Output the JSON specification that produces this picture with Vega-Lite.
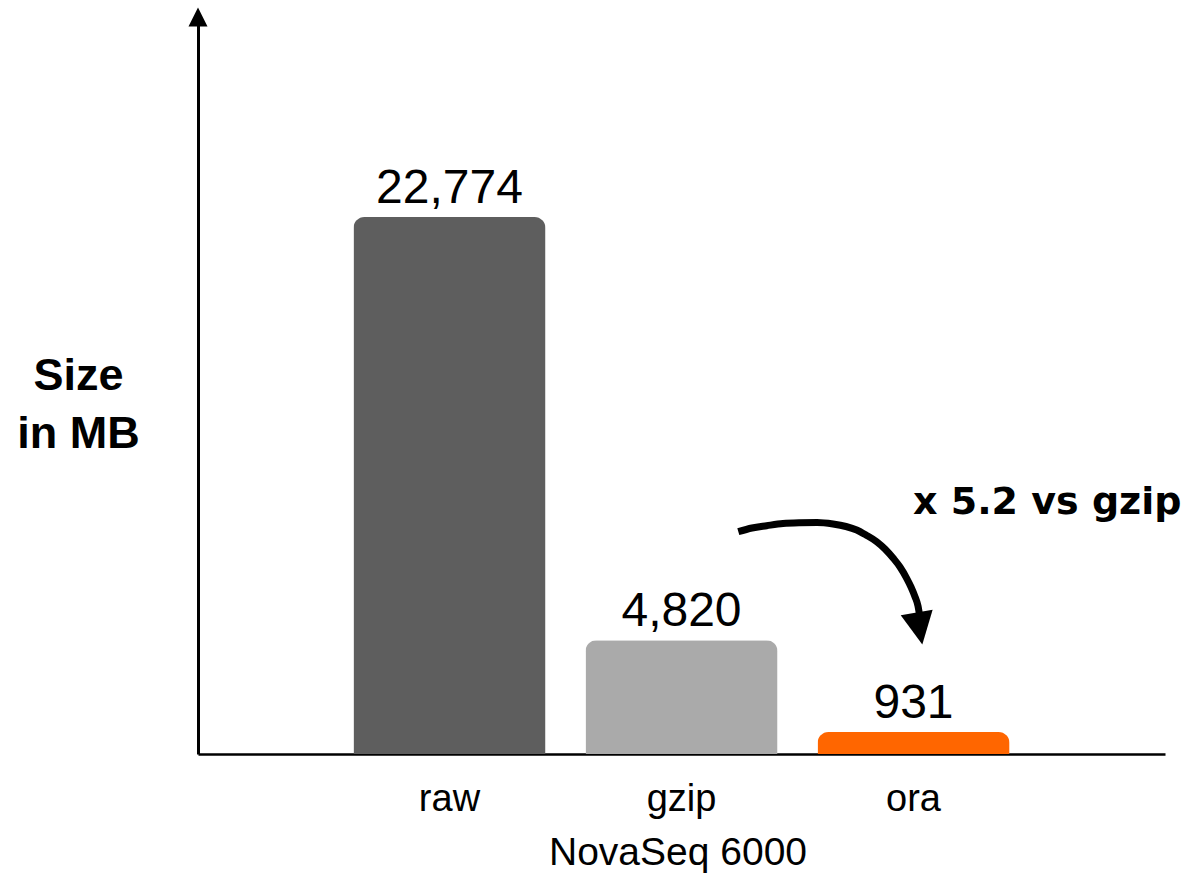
{
  "$schema": "https://vega.github.io/schema/vega-lite/v6.json",
  "width": 967,
  "height": 737,
  "autosize": {"type": "none"},
  "padding": {"left": 198, "top": 17, "right": 35, "bottom": 124},
  "background": "white",
  "config": {
    "view": {"stroke": null},
    "font": "Liberation Sans",
    "axisY": {
      "ticks": false,
      "tickSize": 0,
      "labels": false,
      "grid": false,
      "domainColor": "black",
      "domainWidth": 3,
      "titleAngle": 0,
      "titleAlign": "center",
      "titleBaseline": "alphabetic",
      "titleX": -120,
      "titleY": 372,
      "titleFont": "Liberation Sans",
      "titleFontSize": 45,
      "titleFontWeight": "bold",
      "titleColor": "black",
      "titleLineHeight": 58
    }
  },
  "datasets": {
    "bars": [
      {"format": "raw", "size": 22774},
      {"format": "gzip", "size": 4820},
      {"format": "ora", "size": 931}
    ],
    "curve": [
      {"i": 1, "pos": 2.2470, "value": 9428},
      {"i": 2, "pos": 2.3060, "value": 9585},
      {"i": 3, "pos": 2.3694, "value": 9682},
      {"i": 4, "pos": 2.4397, "value": 9776},
      {"i": 5, "pos": 2.5129, "value": 9809},
      {"i": 6, "pos": 2.5862, "value": 9818},
      {"i": 7, "pos": 2.6552, "value": 9754},
      {"i": 8, "pos": 2.7112, "value": 9648},
      {"i": 9, "pos": 2.7573, "value": 9500},
      {"i": 10, "pos": 2.7974, "value": 9288},
      {"i": 11, "pos": 2.8435, "value": 9004},
      {"i": 12, "pos": 2.8793, "value": 8694},
      {"i": 13, "pos": 2.9151, "value": 8300},
      {"i": 14, "pos": 2.9440, "value": 7931},
      {"i": 15, "pos": 2.9728, "value": 7452},
      {"i": 16, "pos": 2.9914, "value": 7082},
      {"i": 17, "pos": 3.0086, "value": 6671},
      {"i": 18, "pos": 3.0216, "value": 6277},
      {"i": 19, "pos": 3.0302, "value": 5768}
    ],
    "curvehead": [{"pos": 3.028, "value": 5322}],
    "axishead": [{"pos": -0.0819, "value": 31256}],
    "note": [{"pos": 3.0, "value": 10178, "label": "x 5.2 vs gzip"}]
  },
  "layer": [
    {
      "layer": [
        {
          "data": {"name": "bars"},
          "mark": {"type": "bar", "cornerRadiusTopLeft": 11, "cornerRadiusTopRight": 11},
          "encoding": {
            "x": {
              "field": "format",
              "type": "nominal",
              "sort": null,
              "title": "NovaSeq 6000",
              "scale": {"paddingInner": 0.1724, "paddingOuter": 0.67},
              "axis": {
                "ticks": false,
                "tickSize": 0,
                "labelPadding": 56,
                "labelBaseline": "alphabetic",
                "labelAngle": 0,
                "labelFont": "Liberation Sans",
                "labelFontSize": 38,
                "labelColor": "black",
                "domainColor": "black",
                "domainWidth": 2.5,
                "titleFont": "Liberation Sans",
                "titleFontSize": 39,
                "titleFontWeight": "normal",
                "titleColor": "black",
                "titleBaseline": "alphabetic",
                "titleY": 110,
                "titleX": 479.5
              }
            },
            "y": {
              "field": "size",
              "type": "quantitative",
              "title": ["Size", "in MB"],
              "scale": {"domain": [0, 31256], "nice": false}
            },
            "color": {
              "field": "format",
              "type": "nominal",
              "scale": {"domain": ["raw", "gzip", "ora"], "range": ["#5e5e5e", "#aaaaaa", "#ff6600"]},
              "legend": null
            }
          }
        },
        {
          "data": {"name": "bars"},
          "mark": {"type": "text", "dy": -14, "baseline": "alphabetic", "align": "center", "font": "Liberation Sans", "fontSize": 48, "color": "black"},
          "encoding": {
            "x": {"field": "format", "type": "nominal", "sort": null},
            "y": {"field": "size", "type": "quantitative", "title": ["Size", "in MB"]},
            "text": {"field": "size", "type": "quantitative", "format": ","}
          }
        }
      ]
    },
    {
      "layer": [
        {
          "data": {"name": "curve"},
          "mark": {"type": "line", "interpolate": "monotone", "strokeWidth": 7, "color": "black", "strokeCap": "butt"},
          "encoding": {
            "x": {"field": "pos", "type": "quantitative", "scale": {"domain": [-0.0819, 4.0862], "nice": false, "zero": false}, "axis": null},
            "y": {"field": "value", "type": "quantitative", "title": ["Size", "in MB"]},
            "order": {"field": "i"}
          }
        },
        {
          "data": {"name": "curvehead"},
          "mark": {"type": "point", "shape": "M-1,-1L1,-1L0,1Z", "size": 1050, "angle": -10, "filled": true, "opacity": 1, "color": "black", "strokeWidth": 0},
          "encoding": {
            "x": {"field": "pos", "type": "quantitative"},
            "y": {"field": "value", "type": "quantitative", "title": ["Size", "in MB"]}
          }
        },
        {
          "data": {"name": "axishead"},
          "mark": {"type": "point", "shape": "M-1,1L1,1L0,-1Z", "size": 361, "filled": true, "opacity": 1, "color": "black", "strokeWidth": 0, "clip": false},
          "encoding": {
            "x": {"field": "pos", "type": "quantitative"},
            "y": {"field": "value", "type": "quantitative", "title": ["Size", "in MB"]}
          }
        },
        {
          "data": {"name": "note"},
          "mark": {"type": "text", "align": "left", "baseline": "alphabetic", "font": "DejaVu Sans", "fontWeight": "bold", "fontSize": 38, "color": "black"},
          "encoding": {
            "x": {"field": "pos", "type": "quantitative"},
            "y": {"field": "value", "type": "quantitative", "title": ["Size", "in MB"]},
            "text": {"field": "label", "type": "nominal"}
          }
        }
      ]
    }
  ],
  "resolve": {"scale": {"x": "independent"}}
}
